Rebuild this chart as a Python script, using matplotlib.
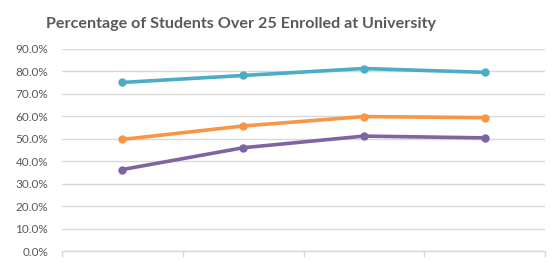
import matplotlib

matplotlib.use("Agg")
import matplotlib.pyplot as plt
from matplotlib.ticker import PercentFormatter, FixedLocator, NullFormatter

TITLE = "Percentage of Students Over 25 Enrolled at University"
CATEGORIES = ["", "", "", ""]
SERIES_TOP = [75.1, 78.2, 81.3, 79.6]
SERIES_MID = [49.7, 55.7, 59.9, 59.4]
SERIES_LOW = [36.3, 46.0, 51.2, 50.4]
Y_TICKS = [0, 10, 20, 30, 40, 50, 60, 70, 80, 90]

COLORS = {"top": "#4BACC6", "mid": "#F79646", "low": "#8064A2"}
GRID = "#D9D9D9"
TEXT = "#595959"

plt.rcParams["font.family"] = ["Lato", "DejaVu Sans"]

fig = plt.figure(figsize=(5.56, 2.63), dpi=100)
ax = fig.add_axes([62 / 556, 12 / 263, (545 - 62) / 556, (251 - 49) / 263])

x = range(len(CATEGORIES))
for values, key in [(SERIES_TOP, "top"), (SERIES_MID, "mid"), (SERIES_LOW, "low")]:
    ax.plot(x, values, color=COLORS[key], linewidth=2.6, marker="o", markersize=5,
            solid_capstyle="round", zorder=3)

ax.set_xlim(-0.5, len(CATEGORIES) - 0.5)
ax.set_ylim(0, 90)
ax.set_yticks(Y_TICKS)
ax.yaxis.set_major_formatter(PercentFormatter(decimals=1))
ax.tick_params(axis="y", length=0, pad=10, labelsize=8.5, labelcolor=TEXT)
ax.xaxis.set_major_locator(FixedLocator([i - 0.5 for i in range(len(CATEGORIES) + 1)]))
ax.xaxis.set_major_formatter(NullFormatter())
ax.tick_params(axis="x", direction="out", length=4, color=GRID, width=1)

ax.grid(axis="y", color=GRID, linewidth=1)
ax.set_axisbelow(True)
for side in ["top", "right", "left"]:
    ax.spines[side].set_visible(False)
ax.spines["bottom"].set_color(GRID)
ax.spines["bottom"].set_linewidth(1)

fig.text(241 / 556, 1 - 24 / 263, TITLE, ha="center", va="center",
         fontsize=11.6, fontweight="bold", color=TEXT)

fig.savefig("out.png", dpi=100, facecolor="white")
